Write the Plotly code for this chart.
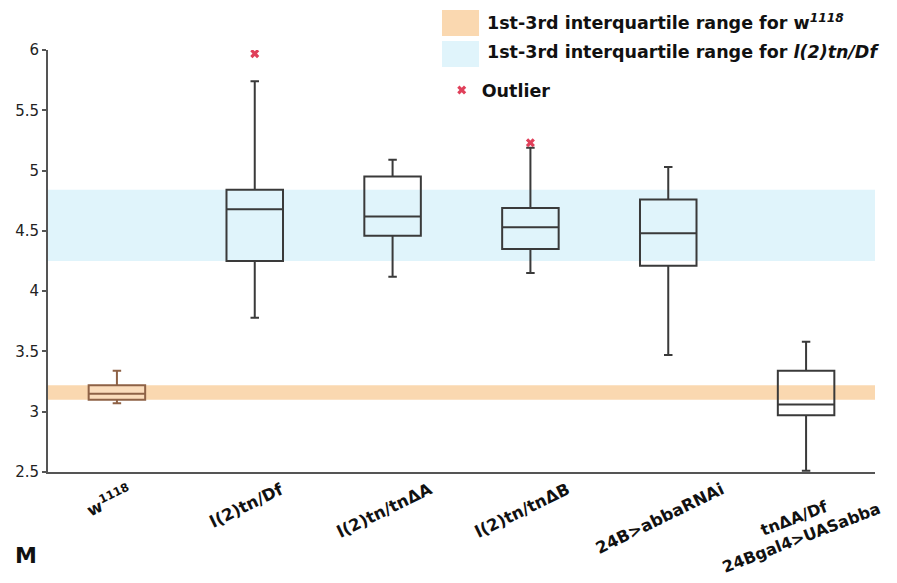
import plotly.graph_objects as go

# ---- data ----
categories = ["w1118", "l(2)tn/Df", "l(2)tn/tnΔA", "l(2)tn/tnΔB", "24B>abbaRNAi", "tnΔA/Df 24Bgal4>UASabba"]
tick_labels = ["w<sup>1118</sup>", "l(2)tn/Df", "l(2)tn/tnΔA", "l(2)tn/tnΔB", "24B>abbaRNAi",
               "tnΔA/Df<br>24Bgal4>UASabba"]
lower_whisker = [3.07, 3.78, 4.12, 4.15, 3.47, 2.51]
q1 = [3.10, 4.25, 4.46, 4.35, 4.21, 2.97]
median = [3.15, 4.68, 4.62, 4.53, 4.48, 3.06]
q3 = [3.22, 4.84, 4.95, 4.69, 4.76, 3.34]
upper_whisker = [3.34, 5.74, 5.09, 5.19, 5.03, 3.58]
outlier_cat = [1, 3]
outlier_val = [5.97, 5.23]
y_ticks = [2.5, 3, 3.5, 4, 4.5, 5, 5.5, 6]
y_tick_text = ["2.5", "3", "3.5", "4", "4.5", "5", "5.5", "6"]

# label styling (angles per label; the two-line label is flatter)
label_angles = [-26, -26, -26, -26, -26, -21]

FONT = "DejaVu Sans"
ORANGE_BAND = "rgb(250,216,176)"
BLUE_BAND = "rgb(224,244,251)"
BOX_LINE = "#3a3a3a"

fig = go.Figure()

# boxes
for i, cat in enumerate(categories):
    first = i == 0
    fig.add_trace(go.Box(
        x=[i], q1=[q1[i]], median=[median[i]], q3=[q3[i]],
        lowerfence=[lower_whisker[i]], upperfence=[upper_whisker[i]],
        name=cat, showlegend=False, width=0.41, whiskerwidth=0.15,
        line=dict(color="#8e6246" if first else BOX_LINE, width=2),
        fillcolor="rgba(251,222,190,0.9)" if first else "rgba(0,0,0,0)",
        boxpoints=False, hoverinfo="skip",
    ))

# outliers (also the legend entry)
fig.add_trace(go.Scatter(
    x=outlier_cat, y=outlier_val, mode="markers", name="Outlier",
    marker=dict(symbol="x", size=8, color="#e0405a", line=dict(width=0)),
    showlegend=True,
))

# IQR bands
fig.add_shape(type="rect", xref="paper", yref="y", x0=0, x1=1, y0=q1[0], y1=q3[0],
              fillcolor=ORANGE_BAND, line_width=0, layer="below")
fig.add_shape(type="rect", xref="paper", yref="y", x0=0, x1=1, y0=q1[1], y1=q3[1],
              fillcolor=BLUE_BAND, line_width=0, layer="below")

# manual legend swatches for the bands
fig.add_shape(type="rect", xref="paper", yref="paper", x0=0.4764, x1=0.5212, y0=1.0332, y1=1.0948,
              fillcolor=ORANGE_BAND, line_width=0)
fig.add_shape(type="rect", xref="paper", yref="paper", x0=0.4764, x1=0.5212, y0=0.9597, y1=1.0213,
              fillcolor=BLUE_BAND, line_width=0)
fig.add_annotation(xref="paper", yref="paper", x=0.5285, y=1.066, xanchor="left", yanchor="middle",
                   text="1st-3rd interquartile range for w<sup><i>1118</i></sup>", showarrow=False,
                   font=dict(family=FONT, size=17.5, color="#111", weight="bold"))
fig.add_annotation(xref="paper", yref="paper", x=0.5285, y=0.995, xanchor="left", yanchor="middle",
                   text="1st-3rd interquartile range for <i>l(2)tn/Df</i>", showarrow=False,
                   font=dict(family=FONT, size=17.5, color="#111", weight="bold"))

# rotated category labels
for i, lab in enumerate(tick_labels):
    fig.add_annotation(xref="x", yref="paper", x=i, y=0, xanchor="center", yanchor="top",
                       xshift=-8, yshift=-5, text=lab, textangle=label_angles[i], showarrow=False,
                       font=dict(family=FONT, size=16.5 if i < 5 else 16, color="#111", weight="bold"))

# panel letter
fig.add_annotation(xref="paper", yref="paper", x=-0.0266, y=-0.197, xanchor="center", yanchor="middle",
                   text="M", showarrow=False,
                   font=dict(family=FONT, size=22, color="#111", weight="bold"))

# page has an 8px body margin, so the figure is 8px smaller than the window
fig.update_layout(
    width=889, height=575,
    margin=dict(l=40, r=22, t=42, b=111, autoexpand=False),
    paper_bgcolor="white", plot_bgcolor="white",
    font=dict(family=FONT, color="#222"),
    legend=dict(x=0.4761, y=0.905, xanchor="left", yanchor="middle",
                bgcolor="rgba(0,0,0,0)", font=dict(family=FONT, size=17.5, color="#111", weight="bold")),
    xaxis=dict(range=[-0.5, 5.5], showticklabels=False, ticks="", showgrid=False, zeroline=False,
               showline=True, linecolor="#555", linewidth=2),
    yaxis=dict(range=[2.5, 6], tickvals=y_ticks, ticktext=y_tick_text, showgrid=False, zeroline=False,
               showline=True, linecolor="#555", linewidth=2, ticks="outside", ticklen=4,
               tickcolor="#555", tickwidth=1.5, tickfont=dict(family=FONT, size=15, color="#222")),
)

fig.write_html("out.html")
